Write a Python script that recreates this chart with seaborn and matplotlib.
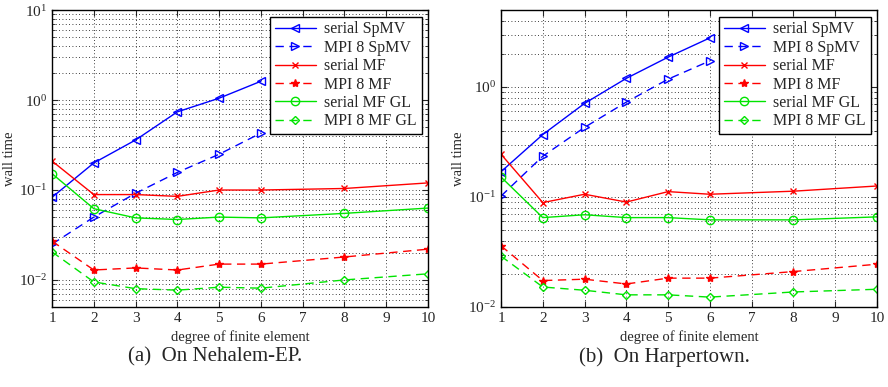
import numpy as np
import pandas as pd
import matplotlib
matplotlib.use("Agg")
import matplotlib.pyplot as plt
import seaborn as sns
from matplotlib.ticker import LogLocator, NullFormatter

sns.set_style("ticks")
plt.rcParams['font.family'] = ['Liberation Serif', 'DejaVu Serif']
plt.rcParams['mathtext.fontset'] = 'stix'

degrees = [1, 2, 3, 4, 5, 6, 8, 10]
spmv_degrees = [1, 2, 3, 4, 5, 6]

series_names = ["serial SpMV", "MPI 8 SpMV", "serial MF", "MPI 8 MF",
                "serial MF GL", "MPI 8 MF GL"]

# (a) Nehalem-EP
neh_serial_spmv = [0.083, 0.20, 0.36, 0.74, 1.05, 1.62]
neh_mpi_spmv = [0.025, 0.050, 0.092, 0.157, 0.25, 0.43]
neh_serial_mf = [0.21, 0.089, 0.089, 0.085, 0.100, 0.100, 0.104, 0.120]
neh_mpi_mf = [0.027, 0.0129, 0.0136, 0.0129, 0.0150, 0.0150, 0.0180, 0.0220]
neh_serial_gl = [0.152, 0.062, 0.049, 0.047, 0.050, 0.049, 0.055, 0.063]
neh_mpi_gl = [0.0205, 0.0095, 0.0080, 0.0077, 0.0083, 0.0081, 0.0100, 0.0117]

# (b) Harpertown
har_serial_spmv = [0.17, 0.37, 0.71, 1.20, 1.87, 2.80]
har_mpi_spmv = [0.102, 0.235, 0.43, 0.73, 1.18, 1.73]
har_serial_mf = [0.245, 0.089, 0.106, 0.090, 0.112, 0.106, 0.113, 0.126]
har_mpi_mf = [0.036, 0.0174, 0.0179, 0.0162, 0.0183, 0.0183, 0.0210, 0.0245]
har_serial_gl = [0.152, 0.065, 0.069, 0.065, 0.065, 0.062, 0.062, 0.066]
har_mpi_gl = [0.029, 0.0152, 0.0142, 0.0129, 0.0129, 0.0123, 0.0137, 0.0145]

GREEN = '#00e400'
styles = [
    dict(color='#0000ff', ls='-', marker='<', mfc='none', ms=6),
    dict(color='#0000ff', ls=(0, (6, 4)), marker='>', mfc='none', ms=6),
    dict(color='#ff0000', ls='-', marker='x', mfc='none', ms=4),
    dict(color='#ff0000', ls=(0, (6, 4)), marker='*', mfc='#ff0000', ms=6),
    dict(color=GREEN, ls='-', marker='o', mfc='none', ms=6),
    dict(color=GREEN, ls=(0, (6, 4)), marker='D', mfc='none', ms=4),
]

fig = plt.figure(figsize=(8.88, 3.87), dpi=100)
ax1 = fig.add_axes([0.0586, 0.2067, 0.4234, 0.767])
ax2 = fig.add_axes([0.5642, 0.2067, 0.4234, 0.767])

panels = [
    (ax1, [neh_serial_spmv, neh_mpi_spmv, neh_serial_mf, neh_mpi_mf, neh_serial_gl, neh_mpi_gl], (0.005, 10), "(a)  On Nehalem-EP.", 215),
    (ax2, [har_serial_spmv, har_mpi_spmv, har_serial_mf, har_mpi_mf, har_serial_gl, har_mpi_gl], (0.01, 5), "(b)  On Harpertown.", 664),
]

for ax, data, ylim, caption, cap_x in panels:
    for name, vals, st in zip(series_names, data, styles):
        xs = spmv_degrees if len(vals) == 6 else degrees
        df = pd.DataFrame({"degree": xs, "time": vals})
        sns.lineplot(data=df, x="degree", y="time", ax=ax, color=st['color'],
                     linestyle=st['ls'], marker=st['marker'], markersize=st['ms'],
                     markerfacecolor=st['mfc'], markeredgecolor=st['color'],
                     markeredgewidth=1.0, linewidth=1.0, label=name)
    ax.set_yscale('log')
    ax.set_ylim(*ylim)
    ax.set_xlim(1, 10)
    ax.set_xticks(range(1, 11))
    ax.yaxis.set_major_locator(LogLocator(base=10, numticks=10))
    ax.yaxis.set_minor_locator(LogLocator(base=10, subs=np.arange(2, 10), numticks=20))
    ax.yaxis.set_minor_formatter(NullFormatter())
    ax.grid(True, which='major', axis='both', color='black', linestyle=(0, (1, 3)), linewidth=0.6)
    ax.grid(True, which='minor', axis='y', color='black', linestyle=(0, (1, 3)), linewidth=0.6)
    ax.tick_params(which='both', direction='in', top=True, right=True, labelsize=11)
    ax.tick_params(which='major', length=4)
    ax.tick_params(which='minor', length=2)
    for sp in ax.spines.values():
        sp.set_linewidth(1.0)
        sp.set_color('black')
    ax.set_xlabel("degree of finite element", fontsize=10.5, labelpad=4)
    ax.set_ylabel("wall time", fontsize=10.5, labelpad=2)
    leg = ax.legend(loc='upper right', fontsize=11.5, frameon=True, fancybox=False,
                    edgecolor='black', framealpha=1, handlelength=2.6,
                    borderpad=0.3, labelspacing=0.15, handletextpad=0.5,
                    borderaxespad=0.4)
    leg.get_frame().set_linewidth(1.0)
    fig.text(cap_x / 888, 1 - 357 / 387, caption, ha='center', va='center', fontsize=15)

fig.savefig("out.png", dpi=100)
